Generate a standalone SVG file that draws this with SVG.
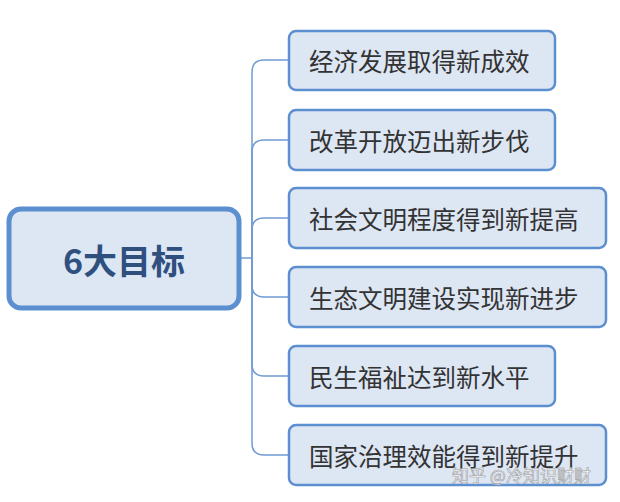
<svg xmlns="http://www.w3.org/2000/svg" width="620" height="502" viewBox="0 0 620 502">
<style>
.c{fill:#dde6f3;stroke:#5b8fd0;stroke-width:2.5}
.t{font-family:"Noto Sans CJK SC",sans-serif;font-size:24.5px;fill:#333;dominant-baseline:central}
.l{fill:none;stroke:#6f9bd2;stroke-width:1.5}
</style>
<rect width="620" height="502" fill="#fff"/>
<g id="connectors">
<path class="l" d="M239,258 H252"/>
<path class="l" d="M252,258 V72 Q252,60 264,60 H289"/>
<path class="l" d="M252,258 V152 Q252,140 264,140 H289"/>
<path class="l" d="M252,258 V230 Q252,218 264,218 H289"/>
<path class="l" d="M252,258 V285 Q252,297 264,297 H289"/>
<path class="l" d="M252,258 V364 Q252,376 264,376 H289"/>
<path class="l" d="M252,258 V443 Q252,455 264,455 H289"/>
</g>
<g id="root">
<rect x="9" y="209" width="230" height="99" rx="12" fill="#dde6f3" stroke="#5b8fd0" stroke-width="5"/>
<text x="124" y="259" text-anchor="middle" dominant-baseline="central" font-family="Noto Sans CJK SC,sans-serif" font-size="34" font-weight="bold" fill="#2f4f7f">6大目标</text>
</g>
<g id="n1"><rect class="c" x="289" y="31" width="266" height="59" rx="7"/><text class="t" x="309" y="60">经济发展取得新成效</text></g>
<g id="n2"><rect class="c" x="289" y="110" width="266" height="60" rx="7"/><text class="t" x="309" y="140">改革开放迈出新步伐</text></g>
<g id="n3"><rect class="c" x="289" y="188" width="317" height="60" rx="7"/><text class="t" x="309" y="218">社会文明程度得到新提高</text></g>
<g id="n4"><rect class="c" x="289" y="267" width="317" height="60" rx="7"/><text class="t" x="309" y="297">生态文明建设实现新进步</text></g>
<g id="n5"><rect class="c" x="289" y="346" width="266" height="60" rx="7"/><text class="t" x="309" y="376">民生福祉达到新水平</text></g>
<g id="n6"><rect class="c" x="289" y="425" width="317" height="60" rx="7"/><text class="t" x="309" y="455">国家治理效能得到新提升</text></g>
<text x="452" y="482" font-family="Noto Sans CJK SC,sans-serif" font-size="17" fill="#fff" stroke="#999" stroke-width="0.6">知乎 @冷知识财财</text>
</svg>
